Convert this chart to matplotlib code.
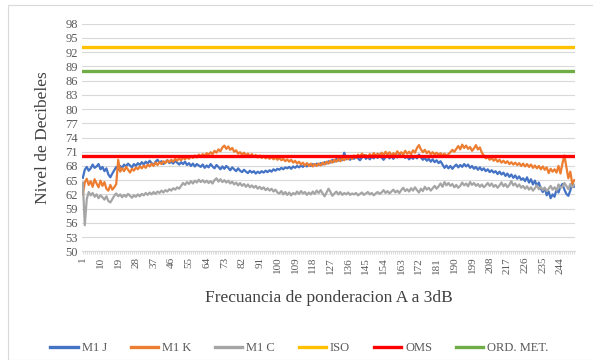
import matplotlib
matplotlib.use("Agg")
import matplotlib.pyplot as plt
import numpy as np

plt.rcParams['font.family'] = ['Liberation Serif', 'DejaVu Serif']

# niveles medidos (dB) por muestra
m1_j = [65.5, 67.2, 67.8, 67.0, 67.5, 68.3, 67.6, 67.9, 68.4, 67.3, 67.8, 66.9, 67.5, 66.2, 65.6,
        66.4, 67.1, 67.8, 67.2, 68.0, 67.6, 68.3, 67.9, 68.5, 68.1, 67.7, 68.4, 68.0, 68.6, 68.2,
        68.8, 68.3, 68.9, 68.5, 69.1, 68.6, 68.2, 68.9, 69.3, 68.7, 69.0, 68.4, 68.8, 69.2, 68.6,
        68.9, 68.5, 69.1, 68.7, 68.3, 68.8, 68.4, 68.9, 68.2, 68.6, 68.0, 68.5, 67.9, 68.4, 68.1,
        67.8, 68.3, 67.6, 68.1, 67.7, 68.4, 67.9, 67.5, 68.2, 67.8, 67.3, 67.9, 67.4, 68.0, 67.6,
        67.1, 67.7, 67.3, 66.9, 67.5, 67.0, 66.7, 67.2, 66.8, 66.5, 67.0, 66.6, 66.9, 66.4, 66.8,
        66.5, 66.9, 66.6, 67.0, 66.7, 67.1, 66.8, 67.3, 67.0, 67.4, 67.2, 67.6, 67.3, 67.7, 67.5,
        67.8, 67.4, 67.9, 67.6, 68.0, 67.7, 68.1, 67.8, 68.2, 67.9, 68.3, 68.0, 68.4, 68.1, 68.5,
        68.2, 68.6, 68.3, 68.8, 68.5, 69.0, 68.7, 69.3, 68.9, 69.5, 69.1, 69.6, 69.2, 70.8, 69.4,
        69.8, 69.3, 69.9, 69.5, 70.1, 69.6, 69.2, 69.8, 70.3, 69.5, 69.9, 69.4, 70.0, 69.6, 70.2,
        69.7, 70.4, 69.8, 69.3, 69.9, 70.5, 69.6, 70.1, 69.5, 70.3, 69.8, 70.6, 69.9, 70.2, 69.7,
        70.0, 69.4, 69.9, 69.5, 70.1, 69.6, 70.4, 69.8, 69.3, 69.7, 69.1, 69.5, 68.9, 69.4, 68.8,
        69.2, 68.6, 69.0, 68.3, 67.6, 68.1, 67.5, 68.0, 67.4, 67.9, 68.3, 67.7, 68.2, 67.8, 68.4,
        67.9, 68.3, 67.6, 68.0, 67.4, 67.8, 67.2, 67.7, 67.1, 67.5, 66.9, 67.3, 66.7, 67.1, 66.6,
        66.9, 66.3, 66.8, 66.2, 66.6, 65.9, 66.4, 65.7, 66.2, 65.5, 66.0, 65.3, 65.8, 65.1, 65.4,
        64.8, 65.6, 64.5, 65.2, 64.1, 64.9, 63.8, 64.5, 63.2, 62.5, 63.4, 61.8, 62.6, 61.2, 62.0,
        61.5, 63.1, 62.4, 63.6, 64.2, 63.0, 62.1, 61.7, 62.8, 64.5, 63.6]

m1_k = [62.0, 64.5, 65.3, 64.0, 64.8, 63.6, 65.2, 64.3, 63.5, 64.9, 63.8, 64.6, 63.2, 62.8, 64.0,
        63.0, 63.5, 64.2, 69.3, 66.8, 67.5, 66.9, 67.8, 67.2, 66.6, 67.4, 67.0, 67.7, 67.3, 67.9,
        67.5, 68.1, 67.6, 68.3, 67.9, 68.5, 68.0, 68.7, 68.2, 68.8, 68.4, 69.0, 68.6, 69.2, 68.8,
        69.3, 68.9, 69.5, 69.1, 69.6, 69.2, 69.8, 69.4, 69.9, 69.5, 70.1, 69.7, 70.2, 69.8, 70.4,
        70.0, 70.5, 70.1, 70.7, 70.3, 70.9, 70.5, 71.2, 70.8, 71.5, 71.1, 71.9, 72.3, 71.6, 72.1,
        71.4, 71.8, 71.0, 71.3, 70.6, 70.9, 70.4, 70.8, 70.2, 70.6, 70.0, 70.5, 69.9, 70.3, 69.8,
        70.2, 69.7, 70.1, 69.6, 70.0, 69.5, 69.9, 69.4, 69.8, 69.3, 69.7, 69.2, 69.5, 69.0, 69.4,
        68.9, 69.3, 68.7, 69.1, 68.5, 68.9, 68.3, 68.7, 68.1, 68.6, 68.0, 68.5, 67.9, 68.4, 68.0,
        68.5, 68.1, 68.7, 68.3, 68.9, 68.5, 69.1, 68.7, 69.3, 68.9, 69.5, 69.0, 69.6, 69.2, 69.8,
        69.4, 70.0, 69.5, 70.2, 69.7, 70.4, 69.9, 70.6, 70.1, 70.3, 69.8, 70.5, 70.0, 70.7, 70.2,
        70.6, 70.1, 70.8, 70.3, 71.0, 70.4, 70.9, 70.2, 70.7, 70.3, 71.1, 70.5, 70.9, 70.4, 71.2,
        70.6, 71.0, 70.5, 71.3, 70.8, 71.8, 72.4, 71.5, 70.9, 71.4, 70.7, 71.1, 70.5, 70.9, 70.4,
        70.8, 70.3, 70.7, 70.2, 70.6, 70.1, 70.5, 70.9, 71.4, 71.0, 71.6, 72.2, 71.5, 72.5, 71.8,
        72.3, 71.6, 72.0, 71.2, 71.7, 72.4, 71.5, 71.9, 70.8, 70.2, 69.6, 69.9, 69.3, 69.7, 69.1,
        69.5, 68.9, 69.3, 68.7, 69.1, 68.6, 69.0, 68.4, 68.8, 68.3, 68.7, 68.2, 68.6, 68.0, 68.5,
        67.9, 68.4, 67.8, 68.3, 67.6, 68.1, 67.5, 68.0, 67.3, 67.9, 67.2, 67.7, 66.5, 67.4, 66.8,
        67.3, 66.6, 68.0, 66.4, 68.5, 70.2, 67.8, 65.4, 66.8, 64.2, 65.0]

m1_c = [64.5, 55.5, 61.0, 62.5, 61.8, 62.3, 61.5, 62.0, 61.2, 61.8, 61.4, 60.9, 61.6, 60.6, 60.3,
        61.0, 61.7, 62.2, 61.6, 62.0, 61.4, 61.9, 61.5, 62.1, 61.7, 61.3, 61.8, 61.5, 62.0, 61.6,
        62.1, 61.8, 62.3, 61.9, 62.4, 62.0, 62.5, 62.1, 62.6, 62.3, 62.8, 62.4, 62.9, 62.6, 63.1,
        62.8, 63.3, 63.0, 63.5, 63.2, 63.8, 64.4, 64.0, 64.6, 64.2, 64.8, 64.3, 64.9, 64.5, 65.1,
        64.6, 65.0, 64.5, 64.9, 64.4, 64.8, 64.3, 65.0, 65.4, 64.7, 65.2, 64.6, 65.0, 64.5, 64.9,
        64.3, 64.7, 64.1, 64.5, 63.9, 64.4, 63.8, 64.2, 63.6, 64.1, 63.5, 63.9, 63.4, 63.8, 63.2,
        63.6, 63.1, 63.5, 62.9, 63.3, 62.8, 63.2, 62.6, 63.0, 62.4, 62.2, 62.7, 62.0, 62.5, 61.9,
        62.4, 61.8, 62.3, 62.0, 62.6, 62.1, 62.7, 62.2, 62.5, 61.9, 62.4, 62.0, 62.6, 62.1, 62.8,
        62.3, 62.9, 62.2, 61.6, 62.4, 63.2, 62.5, 61.7, 62.2, 62.6, 62.0, 62.5, 61.9, 62.3, 62.0,
        62.4, 61.9, 62.2, 62.0, 62.3, 61.8, 62.1, 62.4, 61.9, 62.2, 62.5, 62.0, 62.3, 61.8, 62.2,
        62.5, 62.1, 62.4, 62.9, 62.3, 62.7, 62.2, 62.6, 63.0, 62.4, 62.8, 62.3, 62.9, 63.4, 62.7,
        63.1, 62.6, 63.3, 62.8, 63.5, 62.9, 62.4, 63.2, 62.7, 63.6, 63.0, 63.4, 62.8, 63.3, 63.8,
        63.2, 63.7, 64.3, 63.6, 64.6, 63.9, 64.4, 63.8, 64.2, 63.5, 64.0, 63.4, 63.8, 64.5, 63.9,
        64.3, 63.7, 64.6, 64.0, 64.4, 63.8, 64.2, 63.6, 64.1, 63.5, 63.9, 64.4, 63.8, 64.3, 63.6,
        64.0, 63.4, 63.9, 64.5, 63.7, 64.2, 63.5, 64.0, 64.8, 63.9, 64.3, 63.6, 64.1, 63.4, 63.8,
        63.2, 63.7, 63.0, 63.5, 62.8, 63.3, 63.9, 63.1, 63.6, 62.9, 63.4, 62.7, 63.2, 63.8, 63.0,
        63.5, 62.8, 64.1, 63.4, 63.6, 64.4, 63.8, 63.1, 64.2, 63.5, 64.0]

# limites normativos
iso = 93
oms = 70
ord_met = 88

y_ticks = list(range(50, 99, 3))
x_step = 9

n = len(m1_j)
x = np.arange(1, n + 1)

fig = plt.figure(figsize=(5.93, 3.6), dpi=100)
ax = fig.add_axes([0.138, 0.302, 0.832, 0.632])

ax.plot(x, m1_j, color='#4472C4', lw=1.6, label='M1 J')
ax.plot(x, m1_k, color='#ED7D31', lw=1.6, label='M1 K')
ax.plot(x, m1_c, color='#A5A5A5', lw=1.6, label='M1 C')
ax.plot(x, [iso] * n, color='#FFC000', lw=2.4, label='ISO')
ax.plot(x, [oms] * n, color='#FF0000', lw=2.4, label='OMS')
ax.plot(x, [ord_met] * n, color='#70AD47', lw=2.4, label='ORD. MET.')

ax.set_xlim(0.5, n + 0.5)
ax.set_ylim(50, 98)
ax.set_yticks(y_ticks)
ax.yaxis.grid(True, color='#D9D9D9', lw=0.8)
ax.set_axisbelow(True)

ax.set_xticks(x)
ax.set_xticklabels([str(v) if (v - 1) % x_step == 0 else '' for v in x],
                   rotation=90, fontsize=8, color='#595959')
ax.tick_params(axis='x', length=2, width=0.4, color='#BFBFBF', pad=2)
ax.tick_params(axis='y', length=0, labelsize=9, labelcolor='#595959', pad=3)

for s in ['top', 'right', 'left']:
    ax.spines[s].set_visible(False)
ax.spines['bottom'].set_color('#D9D9D9')

ax.set_xlabel('Frecuancia de ponderacion A a 3dB', fontsize=12.5, color='#404040', labelpad=12)
ax.set_ylabel('Nivel de Decibeles', fontsize=12.5, color='#404040', labelpad=10)

leg = fig.legend(loc='lower center', bbox_to_anchor=(0.505, -0.015), ncol=6, frameon=False,
                 fontsize=9, handlelength=2.2, handletextpad=0.3, columnspacing=1.9,
                 labelcolor='#595959')
for h in leg.legend_handles:
    h.set_linewidth(2.4)

fig.patches.append(plt.Rectangle((0.014, 0.0), 0.99, 0.985, transform=fig.transFigure,
                                 fill=False, edgecolor='#D9D9D9', lw=0.8))

fig.savefig('out.png', dpi=100)
